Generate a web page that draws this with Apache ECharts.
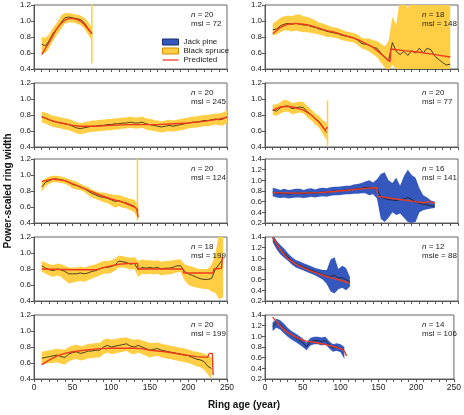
<!DOCTYPE html>
<html>
<head>
<meta charset="utf-8">
<script src="https://cdn.jsdelivr.net/npm/echarts@6/dist/echarts.min.js"></script>
<style>
html, body { margin: 0; padding: 0; background: #fff; }
#chart { width: 464px; height: 415px; }
</style>
</head>
<body>
<div id="chart"></div>
<script>
// ring width curves, ages every 5 years from each panel's start age
var STEP = 5;

// left column, row 1 : black spruce, n = 20, msl = 72
var l1Start = 10;
var l1Mean = [0.71,0.69,0.76,0.85,0.91,0.98,1.04,1.05,1.04,1.03,1.02,0.98,0.91,0.84];
var l1Lo   = [0.60,0.60,0.67,0.76,0.83,0.90,0.97,0.98,0.98,0.97,0.95,0.91,0.83,0.76];
var l1Hi   = [0.80,0.79,0.84,0.92,0.98,1.07,1.10,1.10,1.09,1.08,1.07,1.04,0.99,0.92];
var l1SpikeAge = 75, l1Spike = [0.47, 1.30];
var l1PredAge = [10,15,20,25,30,35,40,45,50,55,60,65,70,75];
var l1Pred    = [0.58,0.66,0.74,0.83,0.91,0.97,1.01,1.03,1.03,1.02,1.00,0.96,0.90,0.84];

// right column, row 1 : black spruce, n = 18, msl = 148
var r1Start = 10;
var r1Mean = [0.89,0.90,0.94,0.96,0.97,0.96,0.97,0.96,0.95,0.95,0.93,0.92,0.90,0.89,0.87,0.86,0.85,0.84,0.82,0.81,
              0.80,0.79,0.76,0.72,0.71,0.70,0.67,0.66,0.60,0.55,0.50,0.73,0.62,0.58,0.62,0.57,0.63,0.60,0.66,0.60,
              0.66,0.64,0.56,0.52,0.48,0.45,0.46];
var r1Lo   = [0.82,0.83,0.86,0.88,0.88,0.87,0.88,0.87,0.86,0.86,0.85,0.84,0.83,0.82,0.80,0.80,0.79,0.78,0.76,0.75,
              0.74,0.73,0.70,0.66,0.64,0.62,0.58,0.55,0.48,0.42,0.38,0.45,0.40,0.32,0.30,0.35,0.30,0.30,0.30,0.30,
              0.30,0.30,0.30,0.30,0.30,0.30,0.30];
var r1Hi   = [0.97,1.00,1.04,1.06,1.07,1.06,1.08,1.08,1.06,1.05,1.03,1.01,0.98,0.97,0.95,0.93,0.92,0.91,0.89,0.87,
              0.86,0.85,0.83,0.79,0.78,0.78,0.76,0.75,0.72,0.68,0.75,1.05,0.95,1.30,1.30,1.15,1.30,1.30,1.30,1.30,
              1.30,1.30,1.30,1.30,1.30,1.30,1.30];
var r1PredAge = [10,20,30,40,50,60,70,80,90,100,110,120,130,140,150,162,163,180,200,220,240];
var r1Pred    = [0.84,0.92,0.96,0.97,0.96,0.94,0.91,0.88,0.86,0.83,0.80,0.77,0.72,0.67,0.59,0.49,0.65,0.63,0.61,0.58,0.55];

// left column, row 2 : black spruce, n = 20, msl = 245
var l2Start = 10;
var l2Mean = [0.78,0.76,0.74,0.72,0.71,0.70,0.69,0.68,0.66,0.64,0.63,0.64,0.65,0.66,0.66,0.67,0.67,0.68,0.68,0.69,
              0.69,0.70,0.70,0.71,0.70,0.70,0.71,0.69,0.68,0.67,0.66,0.65,0.66,0.67,0.66,0.67,0.68,0.69,0.70,0.71,
              0.71,0.72,0.73,0.73,0.74,0.75,0.74,0.75,0.78];
var l2Lo   = [0.71,0.69,0.67,0.65,0.64,0.63,0.62,0.61,0.59,0.57,0.56,0.57,0.58,0.59,0.59,0.60,0.60,0.61,0.61,0.62,
              0.62,0.63,0.63,0.64,0.63,0.63,0.64,0.62,0.61,0.60,0.59,0.58,0.59,0.60,0.59,0.60,0.61,0.62,0.63,0.64,
              0.64,0.65,0.66,0.66,0.67,0.68,0.67,0.67,0.70];
var l2Hi   = [0.84,0.83,0.81,0.79,0.78,0.77,0.76,0.75,0.73,0.71,0.70,0.71,0.72,0.73,0.73,0.74,0.74,0.75,0.75,0.76,
              0.76,0.77,0.77,0.78,0.77,0.77,0.78,0.76,0.75,0.74,0.73,0.72,0.73,0.74,0.73,0.74,0.75,0.76,0.77,0.78,
              0.78,0.79,0.80,0.80,0.81,0.82,0.82,0.83,0.86];
var l2PredAge = [10,20,30,40,50,60,80,100,120,140,160,180,200,220,240,250];
var l2Pred    = [0.78,0.74,0.71,0.69,0.67,0.66,0.66,0.67,0.68,0.68,0.68,0.69,0.70,0.72,0.75,0.77];

// right column, row 2 : black spruce, n = 20, msl = 77
var r2Start = 10;
var r2Mean = [0.86,0.85,0.89,0.91,0.91,0.88,0.89,0.90,0.89,0.84,0.80,0.75,0.72,0.65,0.58];
var r2Lo   = [0.80,0.79,0.82,0.84,0.84,0.81,0.82,0.83,0.82,0.77,0.73,0.68,0.64,0.56,0.48];
var r2Hi   = [0.93,0.93,0.96,0.99,0.98,0.95,0.96,0.97,0.96,0.91,0.87,0.82,0.79,0.73,0.70];
var r2SpikeAge = 81, r2Spike = [0.42, 0.98];
var r2PredAge = [10,20,30,40,50,60,70,78,81];
var r2Pred    = [0.86,0.90,0.91,0.89,0.86,0.80,0.71,0.61,0.65];

// left column, row 3 : black spruce, n = 20, msl = 124
var l3Start = 10;
var l3Mean = [0.85,0.91,0.93,0.95,0.95,0.94,0.93,0.91,0.88,0.87,0.85,0.83,0.80,0.77,0.75,0.73,0.72,0.71,0.69,0.67,
              0.68,0.66,0.65,0.63,0.61,0.55];
var l3Lo   = [0.79,0.86,0.89,0.91,0.91,0.90,0.89,0.87,0.83,0.82,0.81,0.79,0.75,0.72,0.70,0.68,0.66,0.65,0.62,0.59,
              0.61,0.59,0.58,0.56,0.53,0.45];
var l3Hi   = [0.92,0.96,0.98,0.99,0.99,0.98,0.97,0.95,0.93,0.92,0.89,0.87,0.85,0.82,0.80,0.78,0.78,0.77,0.76,0.75,
              0.75,0.73,0.72,0.70,0.69,0.62];
var l3SpikeAge = 134, l3Spike = [0.43, 1.30];
var l3PredAge = [10,25,40,55,70,85,100,115,130,133,135];
var l3Pred    = [0.92,0.95,0.93,0.87,0.81,0.75,0.70,0.66,0.60,0.58,0.47];

// right column, row 3 : jack pine, n = 16, msl = 141
var r3Start = 10;
var r3Mean = [0.78,0.76,0.75,0.76,0.74,0.75,0.76,0.76,0.75,0.76,0.77,0.76,0.77,0.78,0.77,0.79,0.80,0.80,0.81,0.82,
              0.82,0.83,0.84,0.85,0.87,0.86,0.85,0.84,0.68,0.66,0.64,0.63,0.62,0.64,0.65,0.68,0.64,0.60,0.57,0.55,
              0.54,0.52,0.52];
var r3Lo   = [0.70,0.68,0.67,0.68,0.66,0.67,0.68,0.68,0.67,0.68,0.69,0.68,0.69,0.70,0.69,0.71,0.72,0.72,0.73,0.74,
              0.74,0.75,0.75,0.76,0.76,0.72,0.74,0.66,0.28,0.22,0.30,0.40,0.35,0.38,0.30,0.22,0.20,0.22,0.40,0.44,
              0.46,0.47,0.48];
var r3Hi   = [0.86,0.84,0.82,0.84,0.82,0.83,0.84,0.84,0.82,0.84,0.85,0.83,0.85,0.86,0.85,0.87,0.88,0.88,0.89,0.90,
              0.90,0.92,0.93,0.95,0.98,1.00,0.96,1.02,1.12,1.15,1.00,0.95,1.05,0.90,1.08,1.20,1.10,1.05,0.85,0.72,
              0.68,0.62,0.60];
var r3PredAge = [10,40,70,90,110,130,145,146,170,195,205,206,213,220];
var r3Pred    = [0.77,0.76,0.77,0.79,0.82,0.85,0.86,0.70,0.65,0.60,0.58,0.61,0.60,0.57];

// left column, row 4 : black spruce, n = 18, msl = 199
var l4Start = 10;
var l4Mean = [0.84,0.81,0.79,0.78,0.80,0.79,0.77,0.74,0.74,0.74,0.75,0.74,0.75,0.77,0.78,0.80,0.82,0.82,0.83,0.85,
              0.90,0.89,0.88,0.86,0.87,0.79,0.82,0.81,0.82,0.81,0.82,0.80,0.81,0.81,0.82,0.84,0.84,0.77,0.74,0.72,
              0.70,0.68,0.67,0.67,0.68,0.80,0.86,0.93];
var l4Lo   = [0.77,0.74,0.72,0.70,0.72,0.70,0.66,0.62,0.63,0.64,0.65,0.64,0.66,0.68,0.70,0.72,0.74,0.74,0.75,0.78,
              0.82,0.82,0.81,0.79,0.80,0.70,0.74,0.73,0.74,0.73,0.74,0.72,0.73,0.73,0.74,0.76,0.76,0.66,0.60,0.58,
              0.57,0.56,0.55,0.55,0.52,0.50,0.42,0.45];
var l4Hi   = [0.90,0.88,0.86,0.85,0.87,0.86,0.84,0.82,0.82,0.82,0.83,0.82,0.83,0.85,0.86,0.88,0.90,0.90,0.91,0.93,
              0.97,0.96,0.95,0.94,0.95,0.90,0.92,0.91,0.91,0.90,0.91,0.89,0.90,0.90,0.91,0.92,0.92,0.86,0.84,0.83,
              0.81,0.80,0.80,0.80,0.85,1.00,1.25,1.30];
var l4PredAge = [10,50,80,95,110,125,134,135,193,194,232,233,243,244,245];
var l4Pred    = [0.80,0.79,0.79,0.83,0.86,0.87,0.87,0.80,0.80,0.75,0.75,0.80,0.81,0.95,0.95];

// right column, row 4 : jack pine, n = 12, msle = 88
var r4Start = 10;
var r4Mean = [1.38,1.25,1.16,1.10,1.02,0.95,0.90,0.87,0.84,0.81,0.78,0.75,0.72,0.70,0.67,0.66,0.68,0.63,0.64,0.60,0.56];
var r4Lo   = [1.30,1.17,1.07,1.01,0.95,0.88,0.83,0.80,0.77,0.74,0.71,0.68,0.64,0.60,0.52,0.38,0.34,0.42,0.45,0.40,0.47];
var r4Hi   = [1.45,1.33,1.25,1.18,1.09,1.02,0.97,0.94,0.91,0.88,0.85,0.82,0.80,0.78,0.78,0.98,1.02,0.80,0.86,0.82,0.65];
var r4PredAge = [10,15,20,25,30,40,50,60,70,80,90,100,110];
var r4Pred    = [1.40,1.27,1.16,1.07,0.99,0.89,0.82,0.76,0.71,0.66,0.62,0.58,0.53];

// left column, row 5 : black spruce, n = 20, msl = 199
var l5Start = 10;
var l5Mean = [0.66,0.67,0.68,0.69,0.70,0.68,0.67,0.71,0.73,0.74,0.72,0.73,0.75,0.75,0.76,0.76,0.80,0.82,0.80,0.81,
              0.82,0.83,0.84,0.81,0.80,0.82,0.80,0.78,0.76,0.77,0.78,0.76,0.75,0.74,0.73,0.72,0.71,0.70,0.69,0.67,
              0.65,0.64,0.62,0.56,0.53];
var l5Lo   = [0.58,0.59,0.60,0.60,0.61,0.59,0.58,0.62,0.64,0.65,0.63,0.64,0.66,0.66,0.67,0.67,0.71,0.73,0.71,0.72,
              0.73,0.74,0.75,0.72,0.71,0.73,0.71,0.69,0.67,0.68,0.69,0.67,0.66,0.65,0.64,0.63,0.62,0.61,0.60,0.58,
              0.56,0.55,0.52,0.46,0.40];
var l5Hi   = [0.74,0.75,0.76,0.77,0.78,0.77,0.77,0.80,0.82,0.83,0.81,0.82,0.84,0.84,0.85,0.85,0.89,0.91,0.89,0.90,
              0.91,0.92,0.92,0.90,0.89,0.90,0.88,0.87,0.85,0.85,0.86,0.84,0.83,0.82,0.81,0.80,0.79,0.78,0.77,0.75,
              0.74,0.73,0.72,0.70,0.66];
var l5PredAge = [10,20,30,40,50,65,85,100,130,140,150,170,190,210,225,227,231,232];
var l5Pred    = [0.58,0.64,0.69,0.72,0.74,0.76,0.78,0.785,0.785,0.78,0.76,0.74,0.71,0.68,0.67,0.72,0.72,0.45];

// right column, row 5 : jack pine, n = 14, msl = 106
var r5Start = 10;
var r5Mean = [1.18,1.25,1.22,1.15,1.08,1.02,0.98,0.93,0.88,0.80,0.90,0.92,0.92,0.90,0.92,0.84,0.78,0.80,0.77,0.74];
var r5Lo   = [1.10,1.16,1.13,1.06,0.99,0.94,0.90,0.85,0.80,0.74,0.83,0.85,0.85,0.83,0.85,0.77,0.71,0.73,0.70,0.58];
var r5Hi   = [1.26,1.33,1.30,1.24,1.16,1.10,1.06,1.01,0.96,0.88,0.97,0.99,0.99,0.98,0.99,0.91,0.85,0.87,0.85,0.80];
var r5PredAge = [10,15,20,25,30,35,40,45,50,55,65,75,85,95,102,106,108];
var r5Pred    = [1.36,1.28,1.20,1.13,1.07,1.03,0.99,0.96,0.93,0.91,0.89,0.86,0.83,0.79,0.76,0.70,0.63];

var xTicks = [0, 50, 100, 150, 200, 250];

var SPRUCE = '#FFCE45', JACK = '#3558BE', RED = '#EE3A1E', OBS = '#1c1c14';
var FONT = 'Liberation Sans, Arial, sans-serif';

// col, row, species, y range, notes
var panels = [
    {c:0, r:0, sp:'Black spruce', y:[0.4,1.2], st:l1Start, m:l1Mean, lo:l1Lo, hi:l1Hi, pa:l1PredAge, p:l1Pred, sa:l1SpikeAge, s:l1Spike, n:20, t:'msl = 72'},
    {c:1, r:0, sp:'Black spruce', y:[0.4,1.2], st:r1Start, m:r1Mean, lo:r1Lo, hi:r1Hi, pa:r1PredAge, p:r1Pred, n:18, t:'msl = 148'},
    {c:0, r:1, sp:'Black spruce', y:[0.4,1.2], st:l2Start, m:l2Mean, lo:l2Lo, hi:l2Hi, pa:l2PredAge, p:l2Pred, n:20, t:'msl = 245'},
    {c:1, r:1, sp:'Black spruce', y:[0.4,1.2], st:r2Start, m:r2Mean, lo:r2Lo, hi:r2Hi, pa:r2PredAge, p:r2Pred, sa:r2SpikeAge, s:r2Spike, n:20, t:'msl = 77'},
    {c:0, r:2, sp:'Black spruce', y:[0.4,1.2], st:l3Start, m:l3Mean, lo:l3Lo, hi:l3Hi, pa:l3PredAge, p:l3Pred, sa:l3SpikeAge, s:l3Spike, n:20, t:'msl = 124'},
    {c:1, r:2, sp:'Jack pine',    y:[0.2,1.4], st:r3Start, m:r3Mean, lo:r3Lo, hi:r3Hi, pa:r3PredAge, p:r3Pred, n:16, t:'msl = 141'},
    {c:0, r:3, sp:'Black spruce', y:[0.4,1.2], st:l4Start, m:l4Mean, lo:l4Lo, hi:l4Hi, pa:l4PredAge, p:l4Pred, n:18, t:'msl = 199'},
    {c:1, r:3, sp:'Jack pine',    y:[0.2,1.4], st:r4Start, m:r4Mean, lo:r4Lo, hi:r4Hi, pa:r4PredAge, p:r4Pred, n:12, t:'msle = 88'},
    {c:0, r:4, sp:'Black spruce', y:[0.4,1.2], st:l5Start, m:l5Mean, lo:l5Lo, hi:l5Hi, pa:l5PredAge, p:l5Pred, n:20, t:'msl = 199'},
    {c:1, r:4, sp:'Jack pine',    y:[0.2,1.4], st:r5Start, m:r5Mean, lo:r5Lo, hi:r5Hi, pa:r5PredAge, p:r5Pred, n:14, t:'msl = 106'}
];

var colLeft = [34, 265];
var rowTop = [5, 83, 159, 237, 315];
var gw = 193, gh = 64;

function pts(start, vals) {
    return vals.map(function (v, i) { return [start + i * STEP, v]; });
}

// band polygon: upper edge forward, lower edge back
function bandRenderer(pn, fill) {
    return function (params, api) {
        var poly = [], k;
        for (k = 0; k < pn.hi.length; k++) poly.push(api.coord([pn.st + k * STEP, pn.hi[k]]));
        for (k = pn.lo.length - 1; k >= 0; k--) poly.push(api.coord([pn.st + k * STEP, pn.lo[k]]));
        return {type: 'polygon', shape: {points: poly}, style: {fill: fill}, silent: true};
    };
}

var grids = [], xAxes = [], yAxes = [], series = [], texts = [];

panels.forEach(function (pn, i) {
    var left = colLeft[pn.c], top = rowTop[pn.r];
    var fill = pn.sp === 'Jack pine' ? JACK : SPRUCE;
    grids.push({left: left, top: top, width: gw, height: gh, show: true,
        borderColor: '#666', borderWidth: 1, backgroundColor: 'transparent'});
    xAxes.push({
        gridIndex: i, type: 'value', min: 0, max: 250, interval: 10,
        axisLine: {show: true, lineStyle: {color: '#555', width: 1}},
        axisTick: {show: true, inside: false, length: 3, lineStyle: {color: '#555'}},
        axisLabel: {show: pn.r === 4, fontSize: 8.5, color: '#222', margin: 4, fontFamily: FONT,
            formatter: function (v) { return xTicks.indexOf(v) >= 0 ? String(v) : ''; }},
        splitLine: {show: false}
    });
    yAxes.push({
        gridIndex: i, type: 'value', min: pn.y[0], max: pn.y[1], interval: 0.2,
        axisLine: {show: true, lineStyle: {color: '#555', width: 1}},
        axisTick: {show: true, inside: false, length: 3, lineStyle: {color: '#555'}},
        axisLabel: {fontSize: 8, color: '#222', margin: 3, fontFamily: FONT,
            formatter: function (v) { return v.toFixed(1); }},
        splitLine: {show: false}
    });
    series.push({
        name: pn.sp, type: 'custom', xAxisIndex: i, yAxisIndex: i, clip: true, silent: true,
        itemStyle: {color: fill}, data: [[pn.st, pn.lo[0]]],
        renderItem: bandRenderer(pn, fill), z: 1
    });
    if (pn.s) {
        series.push({
            name: pn.sp, type: 'line', xAxisIndex: i, yAxisIndex: i, symbol: 'none', silent: true,
            data: [[pn.sa, pn.s[0]], [pn.sa, pn.s[1]]],
            lineStyle: {color: fill, width: 1.5}, itemStyle: {color: fill}, z: 2
        });
    }
    series.push({
        name: 'Observed', type: 'line', xAxisIndex: i, yAxisIndex: i, symbol: 'none', silent: true,
        data: pts(pn.st, pn.m), lineStyle: {color: OBS, width: 0.8}, z: 3
    });
    series.push({
        name: 'Predicted', type: 'line', xAxisIndex: i, yAxisIndex: i, symbol: 'none', silent: true,
        data: pn.pa.map(function (a, k) { return [a, pn.p[k]]; }),
        lineStyle: {color: RED, width: 1.4}, itemStyle: {color: RED}, z: 4
    });
    texts.push({
        type: 'text', x: left + 157, y: top + 5, z: 10,
        style: {
            text: '{i|n} = ' + pn.n + '\n' + pn.t,
            rich: {i: {fontStyle: 'italic', fontSize: 8, fontFamily: FONT, fill: '#222'}},
            fontSize: 8, lineHeight: 9, fontFamily: FONT, fill: '#222'
        }
    });
});

texts.push({
    type: 'text', x: 8, y: 191, rotation: Math.PI / 2,
    style: {text: 'Power-scaled ring width', fontSize: 10, fontWeight: 'bold', fontFamily: FONT,
        fill: '#111', align: 'center', verticalAlign: 'middle'}
});
texts.push({
    type: 'text', x: 244, y: 405,
    style: {text: 'Ring age (year)', fontSize: 10, fontWeight: 'bold', fontFamily: FONT,
        fill: '#111', align: 'center', verticalAlign: 'middle'}
});

var chart = echarts.init(document.getElementById('chart'));
chart.setOption({
    animation: false,
    textStyle: {fontFamily: FONT},
    grid: grids,
    xAxis: xAxes,
    yAxis: yAxes,
    legend: {
        left: 157, top: 33, orient: 'vertical', selectedMode: false,
        itemWidth: 16, itemHeight: 6, itemGap: 1,
        textStyle: {fontSize: 8, color: '#222', fontFamily: FONT},
        data: [
            {name: 'Jack pine', icon: 'rect', itemStyle: {color: JACK, borderColor: '#1b2d6b', borderWidth: 1}},
            {name: 'Black spruce', icon: 'rect', itemStyle: {color: SPRUCE, borderColor: '#d98a00', borderWidth: 1}},
            {name: 'Predicted', icon: 'path://M0,0H20V1.6H0Z', itemStyle: {color: RED}}
        ]
    },
    graphic: texts,
    series: series
});
</script>
</body>
</html>
